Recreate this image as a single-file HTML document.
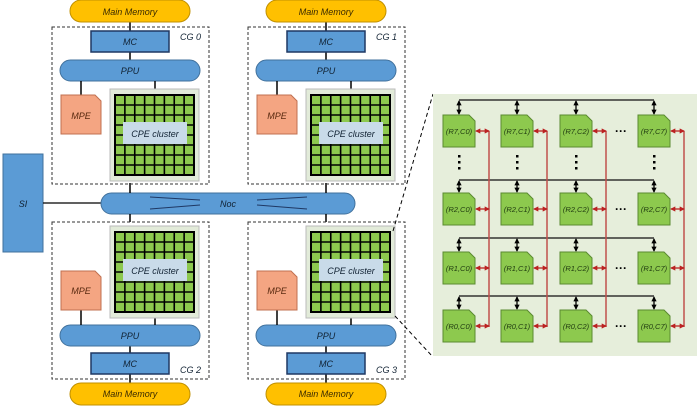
<!DOCTYPE html>
<html><head><meta charset="utf-8"><style>
body{margin:0;background:#fff;width:700px;height:409px;overflow:hidden}
svg text{font-family:"Liberation Sans",sans-serif;font-style:italic;font-size:9px}
</style></head><body>
<svg id="s" width="700" height="409" viewBox="0 0 700 409" xmlns="http://www.w3.org/2000/svg">
<defs>
<marker id="ab" viewBox="0 0 6 6" refX="5" refY="3" markerWidth="4" markerHeight="4" orient="auto-start-reverse"><path d="M0,0L6,3L0,6z" fill="#000"/></marker>
<marker id="ar" viewBox="0 0 6 6" refX="5" refY="3" markerWidth="4" markerHeight="4" orient="auto-start-reverse"><path d="M0,0L6,3L0,6z" fill="#b22"/></marker>
</defs>
<!-- SI & Noc -->
<rect x="3" y="154" width="40" height="98" fill="#5b9bd5" stroke="#41719c"/>
<text x="23" y="207" text-anchor="middle" fill="#123">SI</text>
<line x1="43" y1="203" x2="102" y2="203" stroke="#000" stroke-width="1.2"/>
<rect x="101" y="193" width="254" height="21" rx="10.5" fill="#5b9bd5" stroke="#41719c"/>
<path d="M150,197L200,200M150,209L200,205M257,200L307,197M257,205L307,209" stroke="#1f3864" stroke-width="1"/>
<text x="228" y="207" text-anchor="middle" fill="#123">Noc</text>
<line x1="130" y1="183" x2="130" y2="193" stroke="#000" stroke-width="1.5"/>
<line x1="326" y1="183" x2="326" y2="193" stroke="#000" stroke-width="1.5"/>
<line x1="130" y1="214" x2="130" y2="222" stroke="#000" stroke-width="1.5"/>
<line x1="326" y1="214" x2="326" y2="222" stroke="#000" stroke-width="1.5"/>
<g id="cgs"></g>
<!-- detail panel -->
<line x1="393" y1="231" x2="433" y2="94" stroke="#000" stroke-dasharray="4,3"/>
<line x1="395" y1="316" x2="433" y2="357" stroke="#000" stroke-dasharray="4,3"/>
<rect x="433" y="94" width="264" height="262" fill="#e6eedb"/>
<g id="mesh"></g>
<g fill="#1f3a10" font-size="7.5">
<text x="459" y="134" text-anchor="middle" style="font-size:7.5px">(R7,C0)</text>
<text x="517" y="134" text-anchor="middle" style="font-size:7.5px">(R7,C1)</text>
<text x="576" y="134" text-anchor="middle" style="font-size:7.5px">(R7,C2)</text>
<text x="654" y="134" text-anchor="middle" style="font-size:7.5px">(R7,C7)</text>
<text x="459" y="212" text-anchor="middle" style="font-size:7.5px">(R2,C0)</text>
<text x="517" y="212" text-anchor="middle" style="font-size:7.5px">(R2,C1)</text>
<text x="576" y="212" text-anchor="middle" style="font-size:7.5px">(R2,C2)</text>
<text x="654" y="212" text-anchor="middle" style="font-size:7.5px">(R2,C7)</text>
<text x="459" y="271" text-anchor="middle" style="font-size:7.5px">(R1,C0)</text>
<text x="517" y="271" text-anchor="middle" style="font-size:7.5px">(R1,C1)</text>
<text x="576" y="271" text-anchor="middle" style="font-size:7.5px">(R1,C2)</text>
<text x="654" y="271" text-anchor="middle" style="font-size:7.5px">(R1,C7)</text>
<text x="459" y="329" text-anchor="middle" style="font-size:7.5px">(R0,C0)</text>
<text x="517" y="329" text-anchor="middle" style="font-size:7.5px">(R0,C1)</text>
<text x="576" y="329" text-anchor="middle" style="font-size:7.5px">(R0,C2)</text>
<text x="654" y="329" text-anchor="middle" style="font-size:7.5px">(R0,C7)</text>
</g>
<g font-weight="bold" fill="#000">
<text x="621" y="135" text-anchor="middle" style="font-style:normal;font-size:12px">···</text>
<text x="621" y="213" text-anchor="middle" style="font-style:normal;font-size:12px">···</text>
<text x="621" y="272" text-anchor="middle" style="font-style:normal;font-size:12px">···</text>
<text x="621" y="330" text-anchor="middle" style="font-style:normal;font-size:12px">···</text>
</g>
<!-- labels for CGs -->
<g fill="#3a2a00">
<text x="130" y="15" text-anchor="middle">Main Memory</text>
<text x="326" y="15" text-anchor="middle">Main Memory</text>
<text x="130" y="397" text-anchor="middle">Main Memory</text>
<text x="326" y="397" text-anchor="middle">Main Memory</text>
</g>
<g fill="#123">
<text x="130" y="45" text-anchor="middle">MC</text><text x="326" y="45" text-anchor="middle">MC</text>
<text x="130" y="367" text-anchor="middle">MC</text><text x="326" y="367" text-anchor="middle">MC</text>
<text x="130" y="74" text-anchor="middle">PPU</text><text x="326" y="74" text-anchor="middle">PPU</text>
<text x="130" y="339" text-anchor="middle">PPU</text><text x="326" y="339" text-anchor="middle">PPU</text>
<text x="180" y="40">CG 0</text><text x="376" y="40">CG 1</text>
<text x="180" y="373">CG 2</text><text x="376" y="373">CG 3</text>
<text x="155" y="137" text-anchor="middle">CPE cluster</text><text x="351" y="137" text-anchor="middle">CPE cluster</text>
<text x="155" y="274" text-anchor="middle">CPE cluster</text><text x="351" y="274" text-anchor="middle">CPE cluster</text>
</g>
<g fill="#5a2a10">
<text x="81" y="119" text-anchor="middle">MPE</text><text x="277" y="119" text-anchor="middle">MPE</text>
<text x="81" y="294" text-anchor="middle">MPE</text><text x="277" y="294" text-anchor="middle">MPE</text>
</g>
</svg>
<script>
var NS="http://www.w3.org/2000/svg";
function el(p,t,a){var e=document.createElementNS(NS,t);for(var k in a)e.setAttribute(k,a[k]);p.appendChild(e);return e;}
var g=document.getElementById("cgs");
function cg(dx,top){
 var t=top;
 // top: memory at top, mc, ppu, then mpe/cpe; bottom mirrored
 var memY=t?0:383, boxY=t?27:222, mcY=t?31:353, ppuY=t?60:325, mpeY=t?95:271, cpeY=t?89:226;
 el(g,"line",{x1:130+dx,y1:t?22:374,x2:130+dx,y2:t?31:383,stroke:"#000","stroke-width":1.5});
 el(g,"rect",{x:52+dx,y:boxY,width:157,height:157,fill:"none",stroke:"#333","stroke-dasharray":"3,2"});
 el(g,"rect",{x:70+dx,y:memY,width:120,height:22,rx:11,fill:"#ffc000",stroke:"#c09000"});
 el(g,"line",{x1:130+dx,y1:t?52:345,x2:130+dx,y2:t?60:353,stroke:"#000","stroke-width":1.5});
 el(g,"rect",{x:91+dx,y:mcY,width:78,height:21,fill:"#5b9bd5",stroke:"#1f3864","stroke-width":1.5});
 el(g,"rect",{x:60+dx,y:ppuY,width:140,height:21,rx:10.5,fill:"#5b9bd5",stroke:"#41719c"});
 el(g,"line",{x1:81+dx,y1:t?81:310,x2:81+dx,y2:t?95:325,stroke:"#000","stroke-width":1.5});
 el(g,"line",{x1:155+dx,y1:t?81:315,x2:155+dx,y2:t?89:325,stroke:"#000","stroke-width":1.5});
 el(g,"path",{d:"M"+(61+dx)+","+mpeY+"h34l6,6v33h-40z",fill:"#f4a582",stroke:"#c07050"});
 el(g,"rect",{x:110+dx,y:cpeY,width:89,height:92,fill:"#e2ebd9",stroke:"#bbb"});
 var gx=115+dx,gy=cpeY+6,s=79/8;
 el(g,"rect",{x:gx,y:gy,width:79,height:80,fill:"#8dc94e",stroke:"#000","stroke-width":2});
 for(var i=1;i<8;i++){el(g,"line",{x1:gx+i*s,y1:gy,x2:gx+i*s,y2:gy+80,stroke:"#000","stroke-width":1.6});
  el(g,"line",{x1:gx,y1:gy+i*10,x2:gx+79,y2:gy+i*10,stroke:"#000","stroke-width":1.6});}
 el(g,"rect",{x:123+dx,y:cpeY+33,width:64,height:22,fill:"#c9dbe9"});
}
cg(0,true);cg(196,true);cg(0,false);cg(196,false);
var m=document.getElementById("mesh");
var cx=[443,501,560,638],ry=[115,193,252,310],by=[100,180,238,296],rx=[489,547,606,684];
for(var r=0;r<4;r++){
 el(m,"line",{x1:459,y1:by[r],x2:654,y2:by[r],stroke:"#333","stroke-width":1.5});
}
for(var c=0;c<4;c++) el(m,"line",{x1:rx[c],y1:131,x2:rx[c],y2:327,stroke:"#c0504d","stroke-width":1.5});
for(var r=0;r<4;r++)for(var c=0;c<4;c++){
 var x=cx[c],y=ry[r];
 el(m,"line",{x1:x+16,y1:by[r]+1,x2:x+16,y2:y-1,stroke:"#000","stroke-width":1.3,"marker-start":"url(#ab)","marker-end":"url(#ab)"});
 el(m,"path",{d:"M"+x+","+y+"h26l6,6v26h-32z",fill:"#8dc94e",stroke:"#5a8a30"});
 el(m,"line",{x1:x+33,y1:y+16,x2:rx[c],y2:y+16,stroke:"#b22","stroke-width":1.3,"marker-start":"url(#ar)","marker-end":"url(#ar)"});
}
for(var c=0;c<4;c++)for(var k=0;k<3;k++) el(m,"rect",{x:cx[c]+15,y:155+k*6,width:2.5,height:2.5,fill:"#000"});
</script>
</body></html>
